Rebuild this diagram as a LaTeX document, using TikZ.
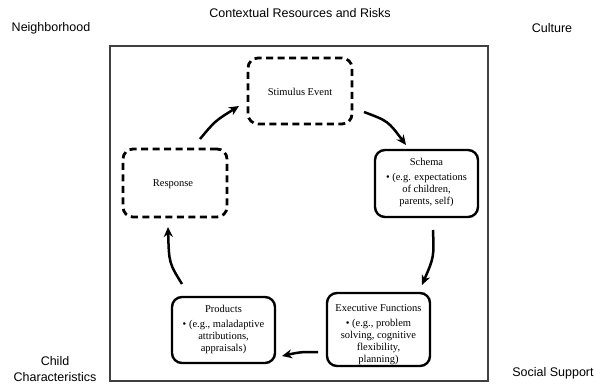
\documentclass[tikz,border=0pt]{standalone}
\usepackage{fontspec}
\setmainfont{Liberation Serif}
\newfontfamily\labelfont{Liberation Sans}
\usetikzlibrary{arrows.meta}
\tikzset{
  ctx/.style={font=\labelfont\fontsize{12.5}{15}\selectfont, inner sep=0pt, align=center},
  dashbox/.style={draw, line width=2.8pt, dash pattern=on 7pt off 4.5pt, rounded corners=10pt, minimum width=#1, inner sep=0pt},
  solidbox/.style={draw, line width=2.4pt, rounded corners=10pt, inner sep=0pt},
  boxtext/.style={font=\fontsize{10.5}{12}\selectfont, align=center, inner sep=0pt},
  flow/.style={line width=2.5pt, -{Stealth[length=10pt,width=9pt]}},
}
\begin{document}
\begin{tikzpicture}[x=1pt,y=-1pt]
\useasboundingbox (0,0) rectangle (600,385);
% outer frame
\node[draw=black!75, line width=1.2pt, minimum width=378pt, minimum height=335pt, inner sep=0pt] (frame) at (299,213.5) {};
% context labels
\node[ctx] (ctxt) at (300,13) {Contextual Resources and Risks};
\node[ctx] (nbh) at (51,28) {Neighborhood};
\node[ctx] (cult) at (552,28) {Culture};
\node[ctx, font=\labelfont\fontsize{12.5}{16}\selectfont] (child) at (55,369) {Child\\Characteristics};
\node[ctx] (soc) at (553,373) {Social Support};
% boxes
\node[dashbox=104pt, minimum height=66pt] (stim) at (300,91) {};
\node[boxtext] (stimt) at (300,92) {Stimulus Event};
\node[dashbox=104pt, minimum height=68pt] (resp) at (175,183) {};
\node[boxtext] (respt) at (173,184) {Response};
\node[solidbox, minimum width=103pt, minimum height=67pt] (schema) at (426.5,183.5) {};
\node[boxtext, anchor=north] (schemat) at (426.5,158) {Schema\\[3pt]\textbullet\ (e.g. expectations\\of children,\\parents, self)};
\node[solidbox, minimum width=103pt, minimum height=73pt] (exec) at (378.5,329.5) {};
\node[boxtext, anchor=north] (exect) at (378.5,304) {Executive Functions\\[3pt]\textbullet\ (e.g., problem\\solving, cognitive\\flexibility,\\planning)};
\node[solidbox, minimum width=103pt, minimum height=66pt] (prod) at (223.5,330) {};
\node[boxtext, anchor=north] (prodt) at (223.5,305) {Products\\[3pt]\textbullet\ (e.g., maladaptive\\attributions,\\appraisals)};
% arrows
\coordinate (a1s) at (200,139);
\coordinate (a1e) at (239,106);
\coordinate (a2s) at (364,112);
\coordinate (a2e) at (406,145);
\coordinate (a3s) at (433,230);
\coordinate (a3e) at (422,285);
\coordinate (a4s) at (318,352);
\coordinate (a4e) at (282,356);
\coordinate (a5s) at (182,284);
\coordinate (a5e) at (168,227);
\draw[flow] (a1s) .. controls (215,121) .. (a1e);
\draw[flow] (a2s) .. controls (388,121) .. (a2e);
\draw[flow] (a3s) .. controls (434,257) .. (a3e);
\draw[flow] (a4s) .. controls (300,352) .. (a4e);
\draw[flow] (a5s) .. controls (169,263) .. (a5e);
\end{tikzpicture}
\end{document}
